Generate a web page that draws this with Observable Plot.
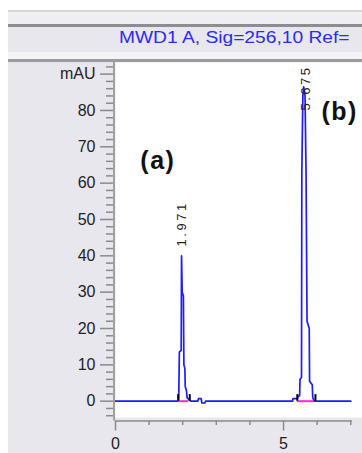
<!DOCTYPE html>
<html><head><meta charset="utf-8">
<script src="https://cdn.jsdelivr.net/npm/d3@7"></script>
<script src="https://cdn.jsdelivr.net/npm/@observablehq/plot@0.6"></script>
<style>
html,body{margin:0;padding:0;background:#fff;}
#wrap{position:relative;width:362px;height:453px;overflow:hidden;background:#fff;font-family:"Liberation Sans",Arial,sans-serif;}
.band{position:absolute;left:8px;right:0;}
#title{position:absolute;left:119px;top:29px;font-size:16px;line-height:18px;color:#2b2bef;white-space:nowrap;transform:scaleX(1.2);transform-origin:0 0;}
#chart{position:absolute;left:8px;top:62px;}
</style></head>
<body><div id="wrap">
<div class="band" style="top:10px;height:2px;background:#d7d5d0"></div>
<div class="band" style="top:12px;height:12px;background:#efeef2"></div>
<div class="band" style="top:24px;height:2.5px;background:#8d8d8f"></div>
<div class="band" style="top:26.5px;height:25.5px;background:#e8e7ed"></div>
<div class="band" style="top:52px;height:6.5px;background:#f4f4f6"></div>
<div class="band" style="top:58.5px;height:3.5px;background:#9b9b9d"></div>
<div id="title">MWD1 A, Sig=256,10 Ref=</div>
<div id="chart"></div>
</div>
<script>
// Chromatogram trace (time in min, signal in mAU)
const time = [0, 1.88, 1.90, 1.955, 1.965, 1.985, 2.02, 2.035, 2.065, 2.075,
  2.11, 2.13, 2.2, 2.25, 2.45, 2.47, 2.55, 2.57, 2.66, 2.68,
  5.27, 5.28, 5.41, 5.43, 5.48, 5.49, 5.535, 5.545, 5.575, 5.60,
  5.64, 5.67, 5.70, 5.765, 5.775, 5.855, 5.87, 5.91, 7.0];
const signal = [0, 0, 13.5, 14, 40, 30, 29, 10, 9, 4,
  3, 1, 0.3, 0, 0, 0.7, 0.7, -0.5, -0.5, 0,
  0, 0.7, 0.7, 1.3, 1.5, 6, 6.5, 63, 84, 86.5,
  84, 63, 22, 20, 5.5, 4.5, 1, 0, 0];

// Peaks (retention times), label anchor heights
const peakTimes = [1.971, 5.675];
const peakLabels = ["1.971", "5.675"];
const peakLabelAt = [42.6, 80];

// Integration baselines
const integStart = [1.88, 5.41];
const integEnd = [2.18, 5.9];
const integMarks = [1.865, 2.21, 5.41, 5.95];

// Panel labels
const panelText = ["(a)", "(b)"];
const panelX = [0.74, 6.13];
const panelY = [66.2, 79.7];

// Axes
const xMajorTicks = [0, 5];
const xMinorTicks = [1, 2, 3, 4, 6, 7];
const xAxisEnd = 7.05;
const yMajorTicks = [0, 10, 20, 30, 40, 50, 60, 70, 80, 90];
const yMinorTicks = d3.range(-4, 93, 2).filter(d => d % 10 !== 0);
const yTickLabels = ["0", "10", "20", "30", "40", "50", "60", "70", "80", "mAU"];
const yMin = -4.49, yMax = 93.2, yAxisBottom = -5.45;

const trace = time.map((t, i) => ({t, v: signal[i]}));
const peaks = peakTimes.map((t, i) => ({t, label: peakLabels[i], at: peakLabelAt[i]}));
const integ = integStart.map((s, i) => ({s, e: integEnd[i]}));
const panels = panelText.map((p, i) => ({p, x: panelX[i], y: panelY[i]}));

const font = '"Liberation Sans", Arial, sans-serif';
const plot = Plot.plot({
  width: 354, height: 391,
  marginLeft: 107, marginRight: 0, marginTop: 0, marginBottom: 36,
  style: {background: "#e8e7ed", fontFamily: font, fontSize: "16px", color: "#222", overflow: "visible"},
  x: {domain: [0, 7.35], label: null},
  y: {domain: [yMin, yMax], label: null},
  marks: [
    Plot.frame({fill: "white", stroke: "none"}),
    Plot.line(trace, {x: "t", y: "v", stroke: "#1c1cff", strokeWidth: 1.7}),
    Plot.ruleY(integ, {x1: "s", x2: "e", y: () => 0, stroke: "#ff2bd0", strokeWidth: 2}),
    Plot.ruleX(integMarks, {x: d => d, y1: () => 0, y2: () => 1.8, stroke: "black", strokeWidth: 2}),
    Plot.text(peaks, {x: "t", y: "at", text: "label", rotate: -90, textAnchor: "start", fontSize: 13, fill: "#222", ariaDescription: "peak-labels"}),
    Plot.text(panels, {x: "x", y: "y", text: "p", textAnchor: "start", fontSize: 25, fontWeight: "bold", fill: "#111", ariaDescription: "panel-labels"}),
    Plot.ruleX([0], {y1: () => yAxisBottom, y2: () => yMax, dx: -1.5, stroke: "#8a8a8a", strokeWidth: 1.5}),
    Plot.ruleY([yAxisBottom], {x1: () => 0, x2: () => xAxisEnd, stroke: "#8a8a8a", strokeWidth: 1.5}),
    Plot.axisY({ticks: yMajorTicks, tickSize: 13, tickPadding: 5, dx: -2, stroke: "#8a8a8a", strokeWidth: 1.5,
      tickFormat: d => yTickLabels[yMajorTicks.indexOf(d)], fontSize: 16, label: null}),
    Plot.axisY({ticks: yMinorTicks, tickSize: 7, dx: -2, stroke: "#8a8a8a", strokeWidth: 1.5, tickFormat: () => "", label: null}),
    Plot.axisX({ticks: xMinorTicks, tickSize: 4.5, dy: 3.5, stroke: "#8a8a8a", strokeWidth: 1.5, tickFormat: () => "", label: null}),
    Plot.axisX({ticks: xMajorTicks, tickSize: 10, tickPadding: 7, dy: 3.5, stroke: "#8a8a8a", strokeWidth: 1.5, fontSize: 16, label: null})
  ]
});
d3.select(plot).selectAll('g[aria-description="peak-labels"] text').style("letter-spacing", "2.5px");
d3.select(plot).selectAll('g[aria-description="panel-labels"] text').style("letter-spacing", "1.5px");
document.getElementById("chart").appendChild(plot);
</script>
</body></html>
